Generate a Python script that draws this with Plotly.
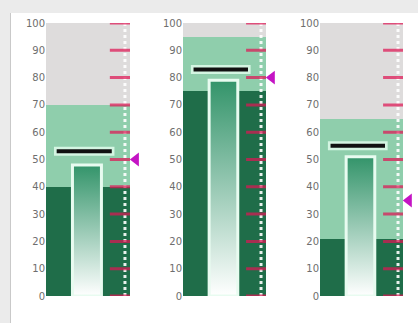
import plotly.graph_objects as go

# values, one entry per gauge
ticks = [0, 10, 20, 30, 40, 50, 60, 70, 80, 90, 100]
band_dark = [40, 75, 21]
band_light = [70, 95, 65]
band_max = [100, 100, 100]
values = [48, 79, 51]
targets = [53, 83, 55]
markers = [50, 80, 35]

W, H = 418, 323
x_dom = [(46, 130), (183, 266), (320, 403)]
y_dom = [(323 - 296) / H, (323 - 23) / H]
XMAX = 1.15  # extra room on the right for the marker

DARK = '#1f6d49'
LIGHT = '#8fceac'
GRAY = '#dedcdc'
BAR_TOP = '#33946a'
TICK = 'rgba(222,22,84,0.72)'
MARK = '#c414c4'

fig = go.Figure()

for i in range(3):
    n = '' if i == 0 else str(i + 1)
    xa, ya = 'x' + n, 'y' + n
    # qualitative bands
    for base, top, col in [(0, band_dark[i], DARK),
                           (band_dark[i], band_light[i], LIGHT),
                           (band_light[i], band_max[i], GRAY)]:
        fig.add_trace(go.Bar(x=[0.5], y=[top - base], base=[base], width=[1],
                             marker=dict(color=col, line=dict(width=0)),
                             xaxis=xa, yaxis=ya, showlegend=False))
    # white dotted line
    fig.add_trace(go.Scatter(x=[0.94, 0.94], y=[0, band_max[i]], mode='lines',
                             line=dict(color='rgba(255,255,255,0.9)', width=3, dash='3px,3px'),
                             xaxis=xa, yaxis=ya, showlegend=False))
    # red scale ticks
    tx, ty = [], []
    for t in ticks:
        tx += [0.76, 1.0, None]
        ty += [t, t, None]
    fig.add_trace(go.Scatter(x=tx, y=ty, mode='lines', line=dict(color=TICK, width=3),
                             xaxis=xa, yaxis=ya, showlegend=False, cliponaxis=False))
    # value bar with vertical gradient
    v = values[i]
    fig.add_trace(go.Scatter(x=[0.315, 0.66, 0.66, 0.315, 0.315], y=[0, 0, v, v, 0],
                             mode='lines', fill='toself',
                             fillgradient=dict(type='vertical',
                                               colorscale=[[0, 'white'], [1, BAR_TOP]]),
                             line=dict(color='#e8fbf0', width=3),
                             xaxis=xa, yaxis=ya, showlegend=False))
    # target line
    t = targets[i]
    fig.add_trace(go.Scatter(x=[0.095, 0.815], y=[t, t], mode='lines',
                             line=dict(color='#d4f5e2', width=9),
                             xaxis=xa, yaxis=ya, showlegend=False))
    fig.add_trace(go.Scatter(x=[0.127, 0.783], y=[t, t], mode='lines',
                             line=dict(color='#111111', width=4),
                             xaxis=xa, yaxis=ya, showlegend=False))
    # marker
    fig.add_trace(go.Scatter(x=[1.07], y=[markers[i]], mode='markers',
                             marker=dict(symbol='triangle-left', size=12, color=MARK,
                                         line=dict(width=0)),
                             xaxis=xa, yaxis=ya, showlegend=False, cliponaxis=False))

    x0, x1 = x_dom[i]
    x1 = x0 + (x1 - x0) * XMAX
    fig.layout['xaxis' + n] = dict(domain=[x0 / W, x1 / W], range=[0, XMAX], visible=False,
                                   anchor=ya, fixedrange=True, automargin=False)
    fig.layout['yaxis' + n] = dict(domain=y_dom, range=[0, 100], anchor=xa,
                                   tickvals=ticks, showgrid=False, zeroline=False,
                                   showline=False, ticks='', fixedrange=True, automargin=False,
                                   tickfont=dict(family='DejaVu Sans', size=10, color='#6e6e6e'))

fig.update_layout(
    width=W, height=H,
    margin=dict(l=0, r=0, t=0, b=0),
    paper_bgcolor='#ebebeb', plot_bgcolor='rgba(0,0,0,0)',
    barmode='overlay', bargap=0,
    shapes=[
        dict(type='rect', xref='paper', yref='paper', x0=11 / W, x1=1, y0=0, y1=(H - 13) / H,
             fillcolor='white', line=dict(width=0), layer='below'),
        dict(type='line', xref='paper', yref='paper', x0=10.5 / W, x1=10.5 / W, y0=0,
             y1=(H - 13) / H, line=dict(color='#c9c9c9', width=1), layer='below'),
    ],
)

fig.write_html("out.html", config={'displayModeBar': False},
               post_script="document.documentElement.style.overflow='hidden';"
                           "document.body.style.margin='0';document.body.style.overflow='hidden';")
